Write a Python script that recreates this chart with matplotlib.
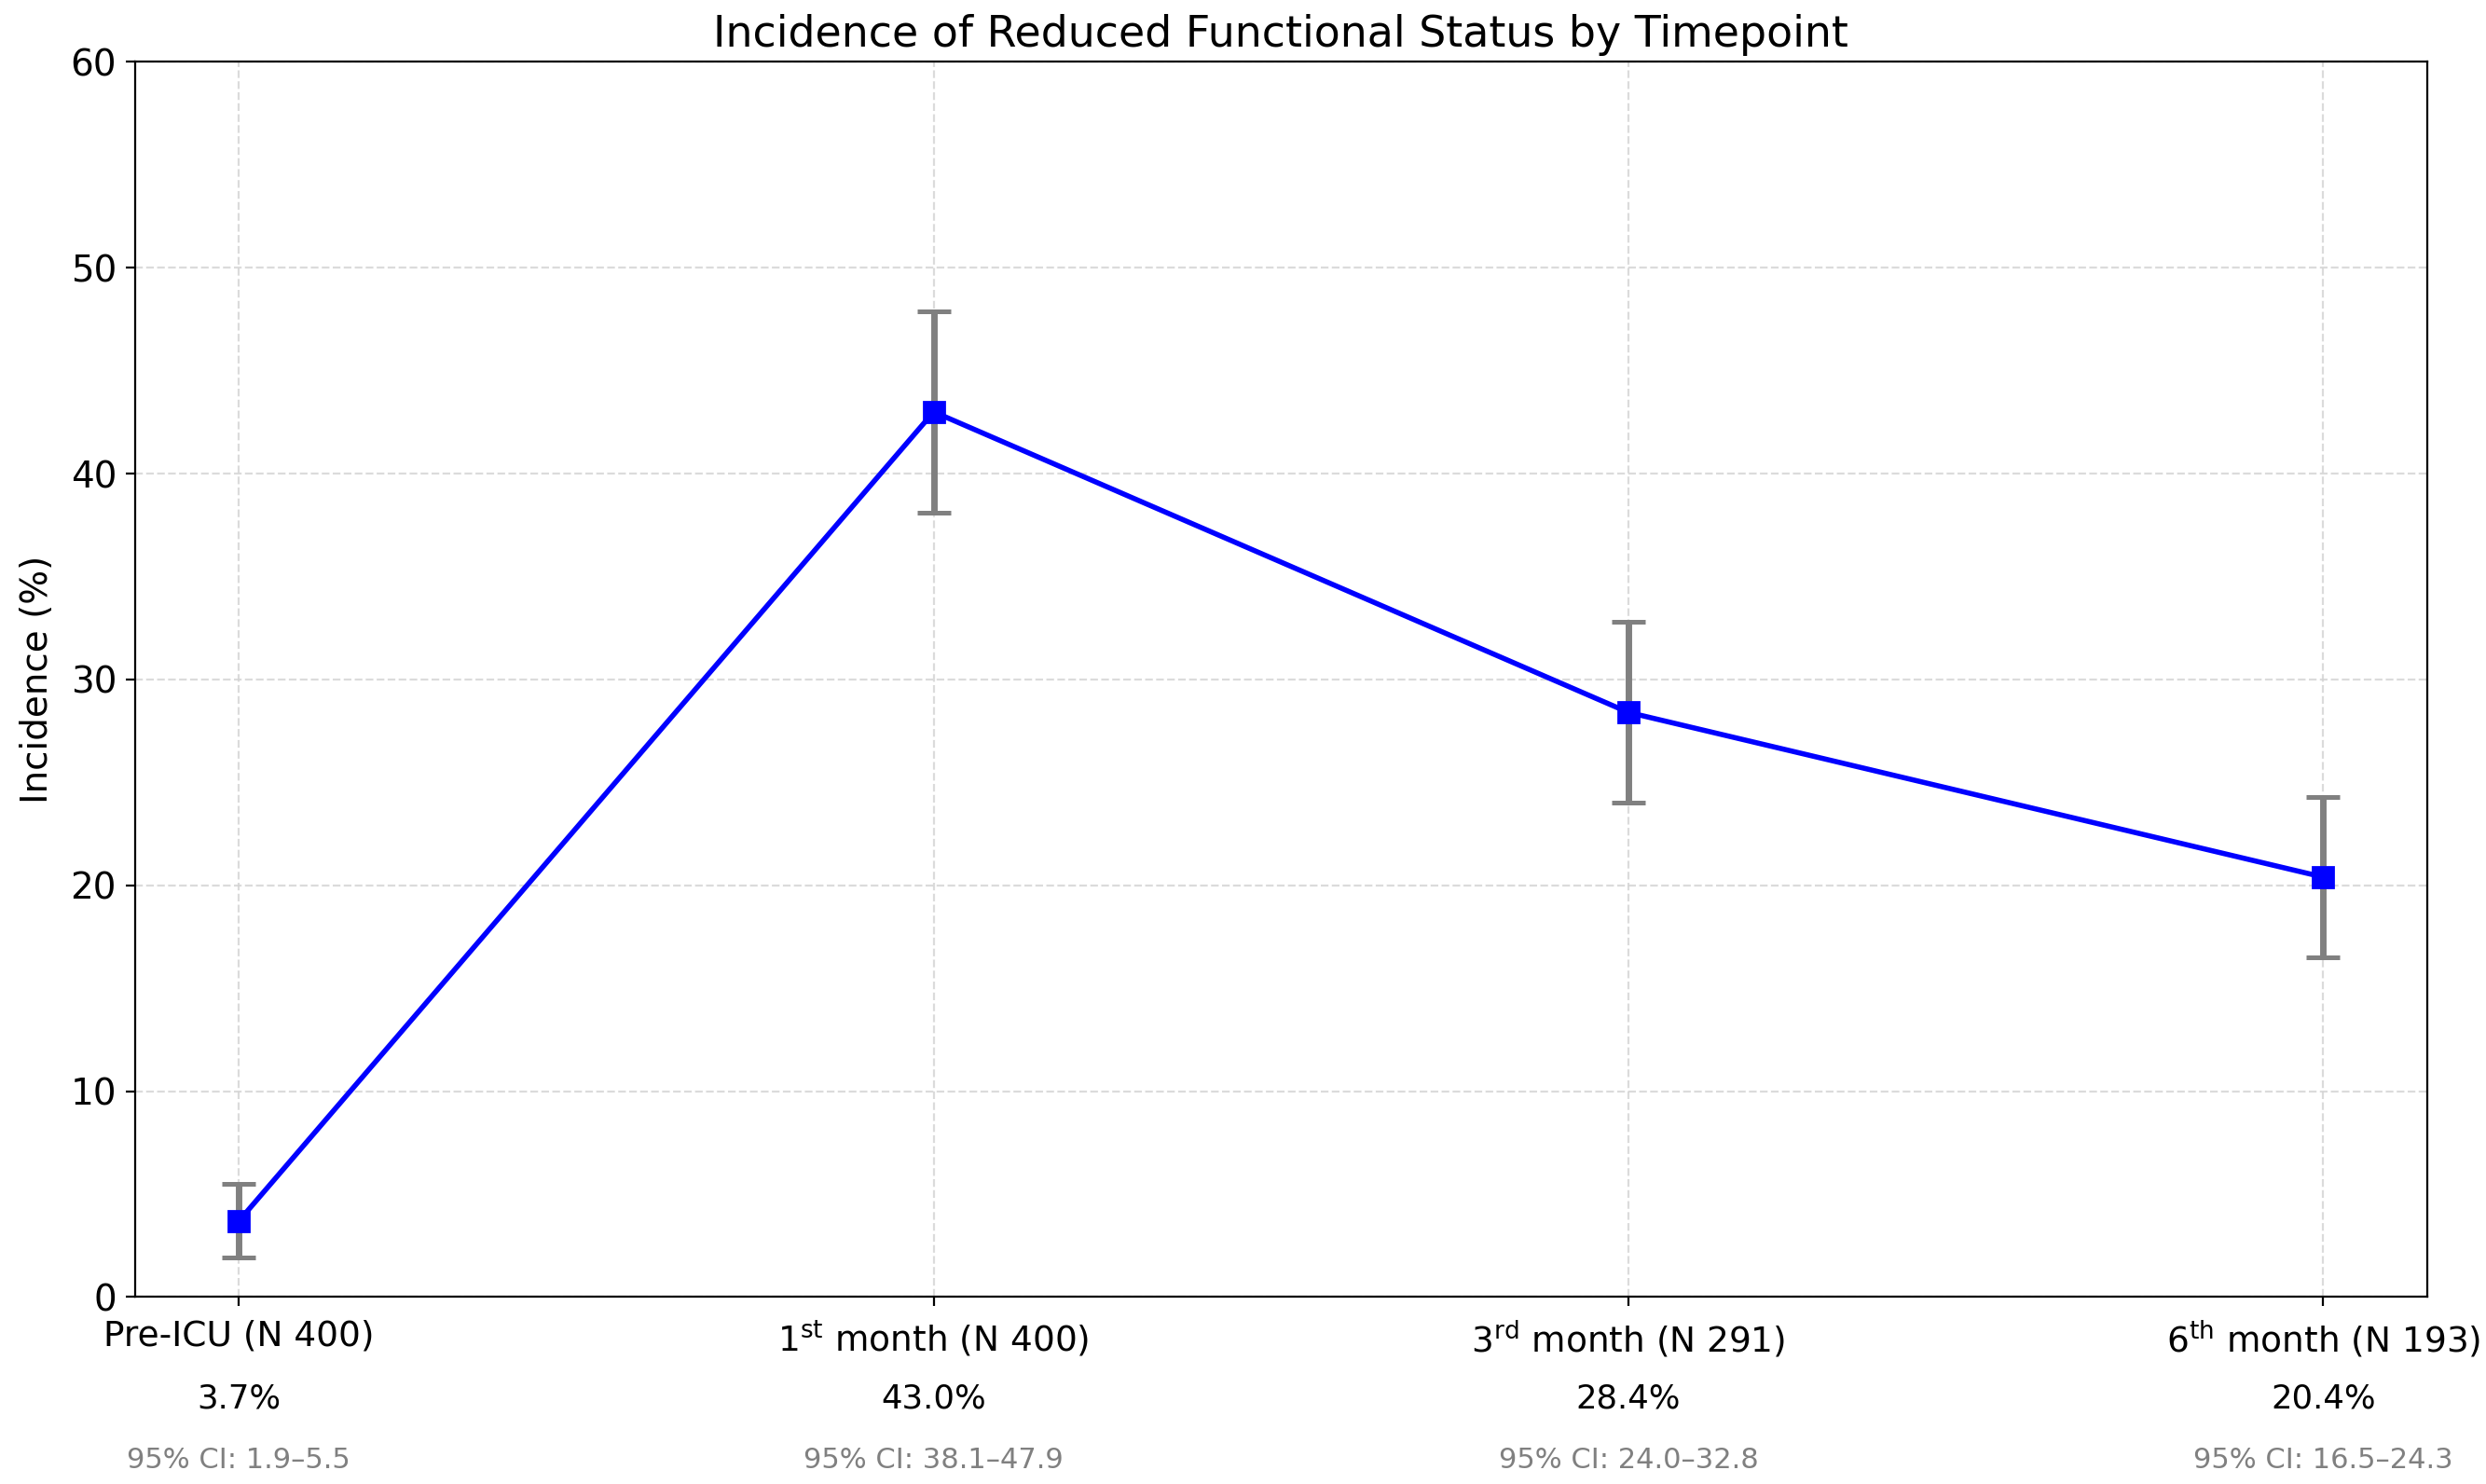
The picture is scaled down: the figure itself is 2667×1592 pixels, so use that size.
import numpy as np
import matplotlib.pyplot as plt

# Data
timepoints = ["Pre-ICU (N 400)",
              r"1$^{\mathrm{st}}$ month (N 400)",
              r"3$^{\mathrm{rd}}$ month (N 291)",
              r"6$^{\mathrm{th}}$ month (N 193)"]
incidence = [3.7, 43.0, 28.4, 20.4]
ci_low = [1.9, 38.1, 24.0, 16.5]
ci_high = [5.5, 47.9, 32.8, 24.3]

x = np.arange(len(timepoints))
inc = np.array(incidence)
yerr = [inc - np.array(ci_low), np.array(ci_high) - inc]

fig = plt.figure(figsize=(13.335, 7.96), dpi=200)
ax = fig.add_axes([0.0542, 0.126, 0.9222, 0.8323])

ax.errorbar(x, inc, yerr=yerr, fmt="none", ecolor="gray",
            elinewidth=2.5, capsize=6.5, capthick=1.8, zorder=2)
ax.plot(x, inc, color="blue", linewidth=2, marker="s", markersize=8,
        zorder=3)

ax.set_xlim(-0.15, 3.15)
ax.set_ylim(0, 60)
ax.set_xticks(x)
ax.set_xticklabels(timepoints, fontsize=13.5)
ax.tick_params(axis="x", pad=5)
ax.tick_params(axis="y", labelsize=14)
ax.set_ylabel("Incidence (%)", fontsize=14, labelpad=6)
ax.set_title("Incidence of Reduced Functional Status by Timepoint",
             fontsize=16.5, pad=6)
ax.grid(True, linestyle="--", color="lightgray", alpha=0.8)

# Value and CI annotations under each tick label
trans = ax.get_xaxis_transform()
for i in range(len(x)):
    ax.text(x[i], -0.082, f"{incidence[i]:.1f}%", transform=trans,
            ha="center", va="center", fontsize=12.8, color="black")
    ax.text(x[i], -0.132, f"95% CI: {ci_low[i]:.1f}\u2013{ci_high[i]:.1f}",
            transform=trans, ha="center", va="center", fontsize=11,
            color="gray")

plt.savefig("out.png", dpi=200)
